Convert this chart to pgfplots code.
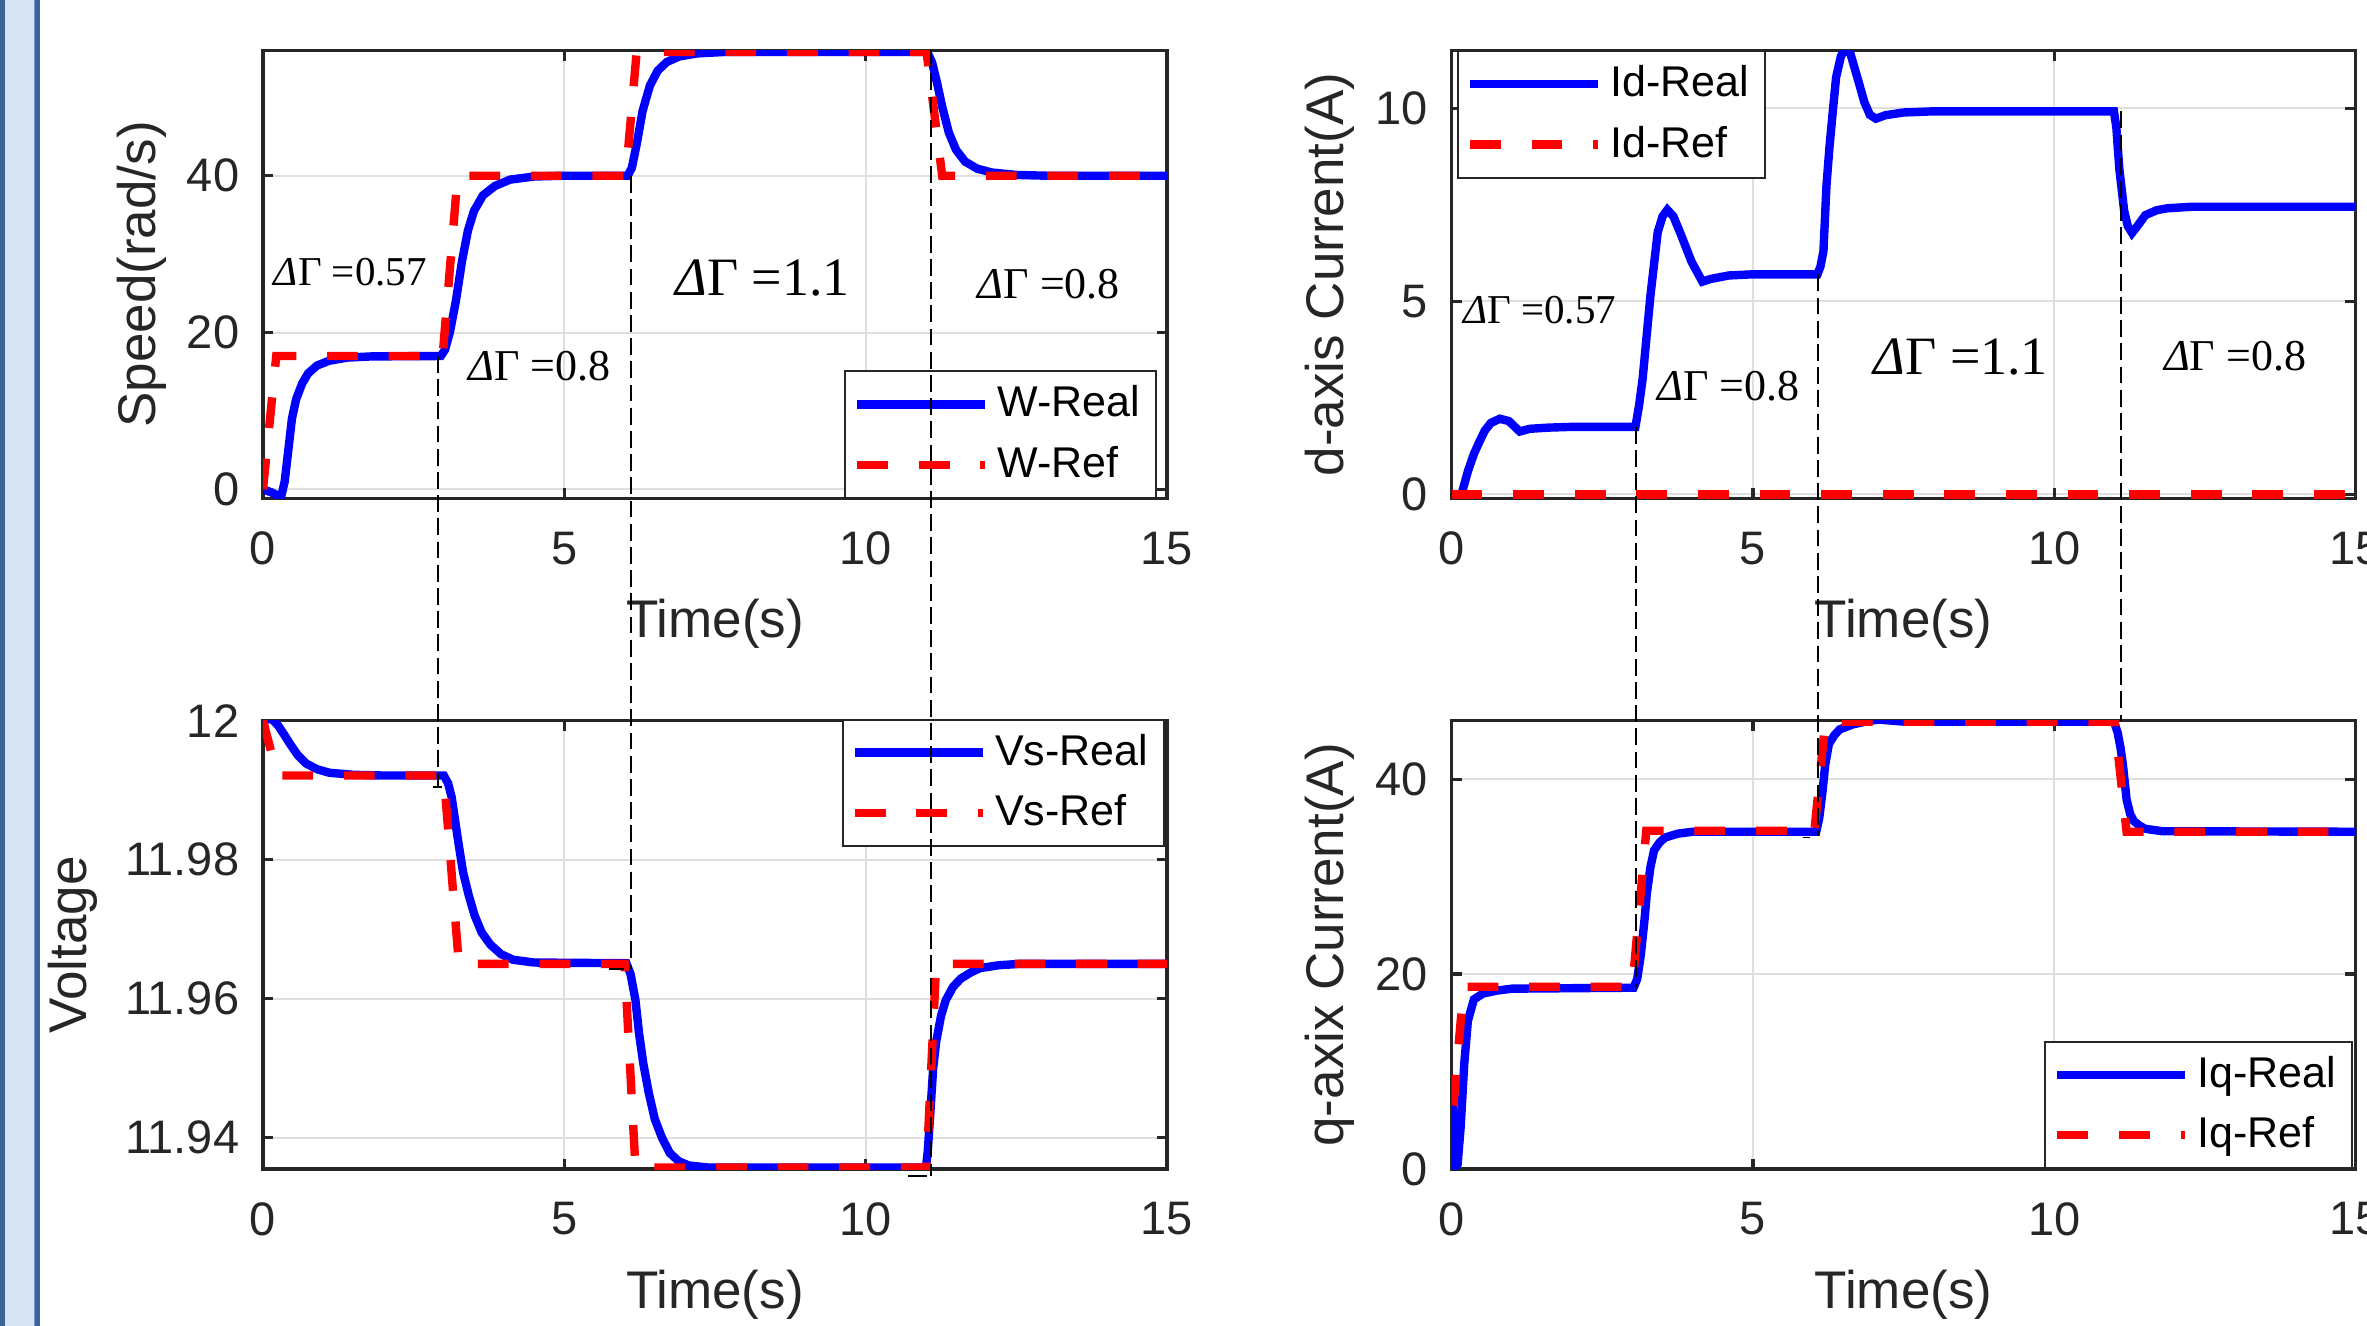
\documentclass[border=0pt]{standalone}
\usepackage{fontspec}
\setmainfont{Liberation Sans}
\newfontfamily\tnr{Liberation Serif}
\usepackage{pgfplots}
\pgfplotsset{compat=1.18}

\definecolor{axgray}{RGB}{38,38,38}
\definecolor{gridgray}{RGB}{223,223,223}
\definecolor{stripdark}{RGB}{60,98,150}
\definecolor{striplight}{RGB}{215,226,243}
\definecolor{stripmid}{RGB}{120,150,200}

\pgfplotsset{
  panel/.style={
    scale only axis, width=226pt, height=112.1pt, anchor=south west,
    xmin=0, xmax=15, xtick={0,5,10,15},
    grid=major, grid style={line width=0.5pt, gridgray},
    axis line style={line width=0.8pt, axgray},
    tick style={line width=0.8pt, axgray},
    tick align=inside, tick pos=both, major tick length=2.6pt,
    ticklabel style={font=\fontsize{11.75}{13}\selectfont, text=axgray},
    xticklabel style={yshift=-4.8pt},
    yticklabel style={xshift=-2.4pt},
    /pgf/number format/assume math mode=true,
    label style={font=\fontsize{13.25}{15}\selectfont, text=axgray},
    xlabel={Time(s)},
    xlabel style={at={(axis description cs:0.5,-0.28)}, anchor=center},
    legend cell align=left,
    legend image code/.code={\draw[#1] (0pt,0pt) -- (32pt,0pt);},
    legend style={draw=axgray, line width=0.5pt, fill=white, inner xsep=2pt,
      inner ysep=1.6pt, row sep=1.8pt, font=\fontsize{10.75}{12}\selectfont, text=black},
  },
  real/.style={blue, line width=2.1pt},
  ref/.style={red, line width=2.1pt, dash pattern=on 7.7pt off 7.7pt},
}
\tikzset{
  conn/.style={black, line width=0.5pt, dash pattern=on 4.2pt off 1.6pt},
  anno/.style={font=\tnr\fontsize{#1}{#1}\selectfont, text=black, inner sep=0pt},
}

\begin{document}
\begin{tikzpicture}
% slide border strip on the left
\fill[stripdark] (0,0) rectangle (10pt,-331.5pt);
\fill[striplight] (1.2pt,0) rectangle (8.5pt,-331.5pt);
\fill[stripmid] (8.5pt,0) rectangle (8.8pt,-331.5pt);

% speed
\begin{axis}[panel, at={(65.75pt,-124.675pt)},
    ymin=-1.2, ymax=56, ytick={0,20,40},
    ylabel={Speed(rad/s)},
    ylabel style={at={(axis description cs:-0.134,0.5)}, anchor=center},
    legend style={at={(1,0)}, anchor=south east, xshift=-2.5pt}]
\addplot[real] coordinates {(0,0) (0.14,-0.4) (0.3,-1) (0.36,1) (0.42,5) (0.48,9) (0.55,11.5) (0.65,13.5) (0.75,14.8) (0.9,15.8) (1.1,16.4) (1.4,16.8) (1.8,16.95) (2.95,17) (3.02,17.8) (3.1,20) (3.2,24) (3.3,29) (3.4,33) (3.5,35.5) (3.65,37.5) (3.85,38.7) (4.1,39.5) (4.5,39.9) (5,40) (6.05,40) (6.12,41) (6.2,44) (6.3,48.3) (6.42,51.5) (6.55,53.4) (6.7,54.5) (6.9,55.2) (7.2,55.6) (7.7,55.8) (11.02,55.8) (11.1,54.5) (11.18,52) (11.27,48.8) (11.38,45.5) (11.5,43.3) (11.65,41.8) (11.85,40.9) (12.1,40.4) (12.5,40.1) (13,40) (15,40)};
\addlegendentry{W-Real}
\addplot[ref] coordinates {(0,0) (0.22,17) (2.98,17) (3.23,40) (6.02,40) (6.2,55.8) (11.01,55.8) (11.27,40) (15,40)};
\addlegendentry{W-Ref}
\node[anno=10.25] at (axis cs:1.45,27.7) {\textit{Δ}Γ =0.57};
\node[anno=11] at (axis cs:4.59,15.7) {\textit{Δ}Γ =0.8};
\node[anno=13.5] at (axis cs:8.29,27.0) {\textit{Δ}Γ =1.1};
\node[anno=11] at (axis cs:13.04,26.2) {\textit{Δ}Γ =0.8};
\coordinate (c1t) at (axis cs:2.9,17);
\coordinate (c2t) at (axis cs:6.105,40);
\coordinate (c3t) at (axis cs:11.09,56);
\end{axis}

% d-axis current
\begin{axis}[panel, at={(362.9pt,-124.675pt)},
    ymin=-0.11, ymax=11.5, ytick={0,5,10},
    ylabel={d-axis Current(A)},
    ylabel style={at={(axis description cs:-0.1345,0.5)}, anchor=center},
    legend style={at={(0,1)}, anchor=north west, xshift=1.3pt}]
\addplot[real] coordinates {(0,0) (0.15,-0.08) (0.27,0.6) (0.37,1.05) (0.46,1.36) (0.55,1.65) (0.65,1.85) (0.8,1.96) (0.95,1.9) (1.05,1.75) (1.13,1.63) (1.3,1.7) (1.6,1.73) (2,1.75) (3.05,1.75) (3.11,2.3) (3.17,3.0) (3.23,4.0) (3.3,5.16) (3.42,6.79) (3.5,7.2) (3.58,7.37) (3.68,7.2) (3.8,6.75) (3.98,6.03) (4.16,5.51) (4.3,5.58) (4.6,5.67) (5,5.7) (6.07,5.7) (6.12,5.9) (6.17,6.3) (6.22,8.0) (6.27,9.0) (6.33,10.0) (6.38,10.8) (6.46,11.35) (6.54,11.55) (6.62,11.4) (6.75,10.7) (6.85,10.15) (6.94,9.83) (7.04,9.73) (7.2,9.82) (7.5,9.89) (8,9.92) (10.99,9.92) (11.03,9.5) (11.08,8.42) (11.16,7.34) (11.22,6.95) (11.29,6.77) (11.38,6.95) (11.51,7.23) (11.7,7.36) (11.88,7.41) (12.3,7.45) (15,7.45)};
\addlegendentry{Id-Real}
\addplot[ref] coordinates {(0,0) (15,0)};
\addlegendentry{Id-Ref}
\node[anno=10.25] at (axis cs:1.46,4.78) {\textit{Δ}Γ =0.57};
\node[anno=11] at (axis cs:4.59,2.80) {\textit{Δ}Γ =0.8};
\node[anno=13.5] at (axis cs:8.45,3.56) {\textit{Δ}Γ =1.1};
\node[anno=11] at (axis cs:13.0,3.59) {\textit{Δ}Γ =0.8};
\coordinate (c4t) at (axis cs:3.06,1.75);
\coordinate (c5t) at (axis cs:6.075,5.7);
\coordinate (c6t) at (axis cs:11.1,9.92);
\end{axis}

% voltage
\begin{axis}[panel, at={(65.75pt,-292.25pt)},
    ymin=11.9355, ymax=12.0, ytick={11.94,11.96,11.98,12}, scaled y ticks=false,
    ylabel={Voltage},
    ylabel style={at={(axis description cs:-0.2105,0.5)}, anchor=center},
    legend style={at={(1,1)}, anchor=north east, xshift=-0.5pt, yshift=0.5pt}]
\addplot[real] coordinates {(0,12) (0.14,12.0003) (0.25,11.9993) (0.35,11.998) (0.46,11.9965) (0.58,11.995) (0.72,11.9938) (0.9,11.993) (1.1,11.9925) (1.5,11.9922) (2,11.9921) (3.0,11.9921) (3.07,11.991) (3.13,11.989) (3.19,11.9855) (3.25,11.982) (3.32,11.9782) (3.41,11.975) (3.51,11.972) (3.63,11.9695) (3.77,11.9678) (3.95,11.9664) (4.15,11.9656) (4.5,11.9652) (6.03,11.9651) (6.1,11.9635) (6.18,11.9598) (6.24,11.955) (6.31,11.9507) (6.4,11.9465) (6.5,11.9427) (6.62,11.94) (6.75,11.9378) (6.9,11.9366) (7.07,11.936) (7.4,11.9357) (11.0,11.9357) (11.03,11.938) (11.08,11.9445) (11.12,11.95) (11.17,11.9538) (11.25,11.9575) (11.33,11.9598) (11.45,11.9617) (11.58,11.9629) (11.75,11.9638) (11.9,11.9644) (12.2,11.9648) (12.54,11.965) (15,11.965)};
\addlegendentry{Vs-Real}
\addplot[ref] coordinates {(0,12) (0.24,11.9921) (3.0,11.9921) (3.25,11.965) (6.0,11.965) (6.18,11.9357) (11.01,11.9357) (11.17,11.965) (15,11.965)};
\addlegendentry{Vs-Ref}
\coordinate (c1b) at (axis cs:2.9,11.9904);
\coordinate (c1l) at (axis cs:2.82,11.9904);
\coordinate (c1r) at (axis cs:2.97,11.9904);
\coordinate (c2b) at (axis cs:6.105,11.9643);
\coordinate (c2l) at (axis cs:5.74,11.9643);
\coordinate (c2r) at (axis cs:5.99,11.9643);
\coordinate (c3b) at (axis cs:11.09,11.93447);
\coordinate (c3l) at (axis cs:10.7,11.93447);
\coordinate (c3r) at (axis cs:11.01,11.93447);
\end{axis}

% q-axis current
\begin{axis}[panel, at={(362.9pt,-292.25pt)},
    ymin=0, ymax=46, ytick={0,20,40},
    ylabel={q-axix Current(A)},
    ylabel style={at={(axis description cs:-0.1345,0.5)}, anchor=center},
    legend style={at={(1,0)}, anchor=south east, xshift=-0.6pt}]
\addplot[real] coordinates {(0,0) (0.02,6.9) (0.04,3) (0.07,0.3) (0.1,0.5) (0.15,4.3) (0.21,10.8) (0.27,15.2) (0.37,17.4) (0.52,18.0) (0.75,18.3) (1.0,18.5) (3.02,18.6) (3.08,19.5) (3.14,22) (3.2,25.5) (3.24,28.3) (3.3,31) (3.36,32.7) (3.45,33.5) (3.54,34.0) (3.75,34.4) (4.0,34.6) (6.05,34.6) (6.1,36) (6.15,38.5) (6.2,41.5) (6.26,43.6) (6.35,44.5) (6.44,45.1) (6.65,45.6) (6.94,46.0) (7.1,46.1) (7.5,45.9) (10.99,45.9) (11.05,44.8) (11.1,43.2) (11.14,41.4) (11.2,37.9) (11.26,36.4) (11.32,35.7) (11.42,35.2) (11.51,34.9) (11.8,34.65) (15,34.6)};
\addlegendentry{Iq-Real}
\addplot[ref] coordinates {(0.03,6.5) (0.2,18.7) (3.0,18.7) (3.23,34.7) (6.02,34.7) (6.2,45.9) (11.0,45.9) (11.2,34.6) (15,34.6)};
\addlegendentry{Iq-Ref}
\coordinate (c4b) at (axis cs:3.06,18.6);
\coordinate (c5b) at (axis cs:6.075,34.2);
\coordinate (c5l) at (axis cs:5.83,34.0);
\coordinate (c5r) at (axis cs:5.95,34.0);
\coordinate (c6b) at (axis cs:11.1,46);
\end{axis}

% dashed guide lines across the panels
\draw[conn] (c1t) -- (c1b);
\draw[conn] (c2t) -- (c2b);
\draw[conn] (c3t) -- (c3b);
\draw[conn] (c4t) -- (c4b);
\draw[conn] (c5t) -- (c5b);
\draw[conn] (c6t) -- (c6b);
\draw[black, line width=0.45pt] (c1l) -- (c1r);
\draw[black, line width=0.45pt] (c2l) -- (c2r);
\draw[black, line width=0.45pt] (c3l) -- (c3r);
\draw[black, line width=0.45pt] (c5l) -- (c5r);

\pgfresetboundingbox
\path[use as bounding box] (0,0) rectangle (591.75pt,-331.5pt);
\end{tikzpicture}
\end{document}
